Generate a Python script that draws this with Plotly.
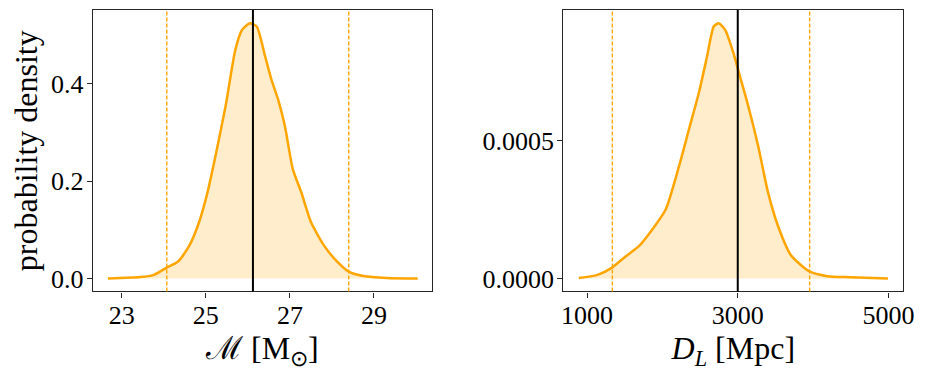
import plotly.graph_objects as go
from plotly.subplots import make_subplots

# Chirp mass posterior density
mc_x = [22.67, 23.44, 23.75, 24.06, 24.34, 24.61, 24.84, 25.04, 25.23, 25.47, 25.70, 25.86,
        26.05, 26.21, 26.41, 26.56, 26.72, 26.88, 27.07, 27.27, 27.50, 27.81, 28.13, 28.40,
        28.75, 29.30, 30.04]
mc_y = [0.0, 0.003, 0.007, 0.022, 0.035, 0.068, 0.116, 0.177, 0.252, 0.354, 0.469, 0.510,
        0.524, 0.517, 0.456, 0.408, 0.367, 0.313, 0.224, 0.177, 0.116, 0.068, 0.034, 0.014,
        0.005, 0.001, 0.0]
mc_true = 26.12
mc_bounds = [24.07, 28.40]

# Luminosity distance posterior density
dl_x = [891, 1131, 1327, 1503, 1699, 1873, 2047, 2222, 2353, 2484, 2593, 2681, 2746, 2833,
        2943, 3029, 3139, 3270, 3401, 3532, 3706, 3946, 4186, 4491, 4993]
dl_y = [0.000002, 0.000012, 0.0000385, 0.000078, 0.00012, 0.00018, 0.000252, 0.000408,
        0.000541, 0.000673, 0.000805, 0.000913, 0.000925, 0.000901, 0.000817, 0.000733,
        0.000625, 0.000481, 0.000313, 0.000192, 0.000084, 0.0000264, 0.0000084, 0.0000048, 0.0]
dl_true = 3000
dl_bounds = [1336, 3954]

mc_ticks = [23, 25, 27, 29]
mc_yticks = [0.0, 0.2, 0.4]
mc_yticklabels = ["0.0", "0.2", "0.4"]
dl_ticks = [1000, 3000, 5000]
dl_yticks = [0.0, 0.0005]
dl_yticklabels = ["0.0000", "0.0005"]

ORANGE = "#FFA500"
FILL = "rgba(255,165,0,0.2)"
FRAME = "#262626"
FONT = "Liberation Serif"

fig = make_subplots(rows=1, cols=2)

fig.add_trace(go.Scatter(x=mc_x, y=mc_y, mode="lines", line=dict(color=ORANGE, width=2.5, shape="spline", smoothing=0.6),
                         fill="tozeroy", fillcolor=FILL, showlegend=False, hoverinfo="skip"), row=1, col=1)
fig.add_trace(go.Scatter(x=dl_x, y=dl_y, mode="lines", line=dict(color=ORANGE, width=2.5, shape="spline", smoothing=0.6),
                         fill="tozeroy", fillcolor=FILL, showlegend=False, hoverinfo="skip"), row=1, col=2)

for xr, bounds, truth in [("x", mc_bounds, mc_true), ("x2", dl_bounds, dl_true)]:
    yr = "y domain" if xr == "x" else "y2 domain"
    for b in bounds:
        fig.add_shape(type="line", xref=xr, yref=yr, x0=b, x1=b, y0=0, y1=1,
                      line=dict(color=ORANGE, width=1.4, dash="4px,2px"))
    fig.add_shape(type="line", xref=xr, yref=yr, x0=truth, x1=truth, y0=0, y1=1,
                  line=dict(color="black", width=2))

axis_common = dict(showline=True, mirror=True, linecolor=FRAME, linewidth=1.3, ticks="outside",
                   ticklen=5, tickwidth=1.2, tickcolor=FRAME, showgrid=False, zeroline=False,
                   tickfont=dict(family=FONT, size=26, color="black"))

# the page body has an 8px margin on every side; keep the figure inside the window
OFF = 8
W, H = 938 - 2 * OFF, 379 - 2 * OFF


def xd(a, b):
    return [(a - OFF) / W, (b - OFF) / W]


def yd(top, bottom):
    return [1 - (bottom - OFF) / H, 1 - (top - OFF) / H]


fig.update_xaxes(**axis_common, ticklabelstandoff=-5)
fig.update_yaxes(**axis_common, ticklabelstandoff=-2)

fig.update_layout(
    width=W, height=H,
    margin=dict(l=0, r=0, t=0, b=0),
    plot_bgcolor="white", paper_bgcolor="white",
    font=dict(family=FONT, color="black"),
    xaxis=dict(domain=xd(92, 436), range=[22.31, 30.38], tickvals=mc_ticks,
               title=dict(text="ℳ [M<sub>⊙</sub>]", font=dict(size=32), standoff=8)),
    yaxis=dict(domain=yd(10, 293), range=[-0.0265, 0.551], tickvals=mc_yticks,
               ticktext=mc_yticklabels,
               title=dict(text="probability density", font=dict(size=32), standoff=4)),
    xaxis2=dict(domain=xd(569.3, 914), range=[686, 5196], tickvals=dl_ticks,
                title=dict(text="<i>D</i><sub><i>L</i></sub> [Mpc]", font=dict(size=32), standoff=8)),
    yaxis2=dict(domain=yd(10, 293), range=[-0.0000469, 0.000973], tickvals=dl_yticks,
                ticktext=dl_yticklabels),
)

fig.write_html("out.html")
